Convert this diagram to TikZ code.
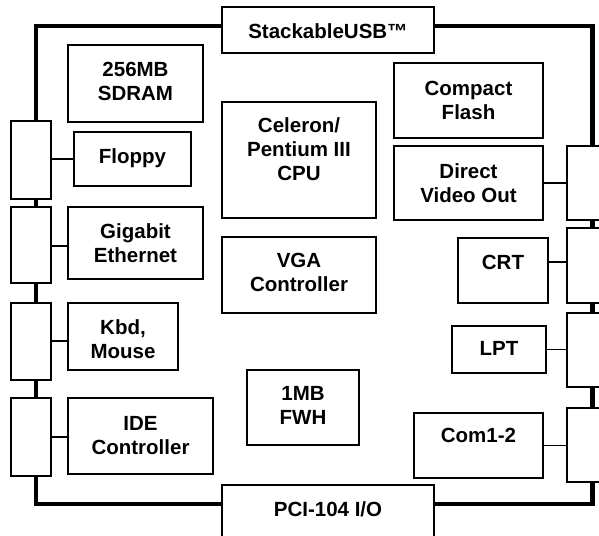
\documentclass[tikz,border=0pt]{standalone}
\usepackage{fontspec}
\setmainfont{Liberation Sans}
\begin{document}
\begin{tikzpicture}[x=1pt,y=-1pt,
  box/.style={draw, line width=1.7pt, fill=white, inner sep=0pt, outer sep=0pt},
  conn/.style={draw, line width=1.7pt, fill=white, inner sep=0pt, outer sep=0pt},
  lbl/.style={font=\fontsize{20.5}{24}\selectfont\bfseries, align=center, inner sep=0pt},
  wire/.style={line width=1.1pt},
  bus/.style={line width=4.6pt}]
\useasboundingbox (0,0) rectangle (599,535);
% bus outline
\draw[bus] (36,26) coordinate (tl) rectangle (592.5,504) coordinate (br);
% connectors left
\node[conn, minimum width=40, minimum height=78] (L1) at (31,160) {};
\node[conn, minimum width=40, minimum height=76] (L2) at (31,245) {};
\node[conn, minimum width=40, minimum height=77] (L3) at (31,341.5) {};
\node[conn, minimum width=40, minimum height=78] (L4) at (31,437) {};
% connectors right
\node[conn, minimum width=40, minimum height=74] (R1) at (587,183) {};
\node[conn, minimum width=40, minimum height=75] (R2) at (587,265.5) {};
\node[conn, minimum width=40, minimum height=74] (R3) at (587,350) {};
\node[conn, minimum width=40, minimum height=74] (R4) at (587,445) {};
% top / bottom boxes
\node[box, minimum width=212, minimum height=46] (usb) at (328,30) {};
\node[lbl] (usbT) at (328,31) {StackableUSB™};
\node[box, minimum width=212, minimum height=58] (pci) at (328,514) {};
\node[lbl] (pciT) at (328,509) {PCI-104 I/O};
% left column
\node[box, minimum width=135, minimum height=77] (sdram) at (135.5,83.5) {};
\node[lbl] (sdramT) at (135.5,81) {256MB\\SDRAM};
\node[box, minimum width=117, minimum height=54] (floppy) at (132.5,159) {};
\node[lbl] (floppyT) at (132.5,158) {Floppy};
\node[box, minimum width=135, minimum height=72] (gig) at (135.5,243) {};
\node[lbl] (gigT) at (135.5,243) {Gigabit\\Ethernet};
\node[box, minimum width=110, minimum height=67] (kbd) at (123,336.5) {};
\node[lbl] (kbdT) at (123,339) {Kbd,\\Mouse};
\node[box, minimum width=145, minimum height=76] (ide) at (140.5,436) {};
\node[lbl] (ideT) at (140.5,435.5) {IDE\\Controller};
% middle column
\node[box, minimum width=154, minimum height=116] (cpu) at (299,160) {};
\node[lbl] (cpuT) at (299,149) {Celeron/\\Pentium III\\CPU};
\node[box, minimum width=154, minimum height=76] (vga) at (299,275) {};
\node[lbl] (vgaT) at (299,272) {VGA\\Controller};
\node[box, minimum width=112, minimum height=75] (fwh) at (303,407.5) {};
\node[lbl] (fwhT) at (303,405.5) {1MB\\FWH};
% right column
\node[box, minimum width=149, minimum height=75] (cf) at (468.5,100.5) {};
\node[lbl] (cfT) at (468.5,100) {Compact\\Flash};
\node[box, minimum width=149, minimum height=74] (dvo) at (468.5,183) {};
\node[lbl] (dvoT) at (468.5,183.5) {Direct\\Video Out};
\node[box, minimum width=90, minimum height=65] (crt) at (503,270.5) {};
\node[lbl] (crtT) at (503,262) {CRT};
\node[box, minimum width=94, minimum height=47] (lpt) at (499,349.5) {};
\node[lbl] (lptT) at (499,348.5) {LPT};
\node[box, minimum width=129, minimum height=65] (com) at (478.5,445.5) {};
\node[lbl] (comT) at (478.5,435.5) {Com1-2};
% thin links
\draw[wire] (L1.east |- 0,159) -- (floppy.west |- 0,159);
\draw[wire] (L2.east |- 0,246) -- (gig.west |- 0,246);
\draw[wire] (L3.east |- 0,341) -- (kbd.west |- 0,341);
\draw[wire] (L4.east |- 0,437) -- (ide.west |- 0,437);
\draw[wire] (dvo.east) -- (R1.west |- dvo.east);
\draw[wire] (crt.east |- 0,262) -- (R2.west |- 0,262);
\draw[wire] (lpt.east) -- (R3.west |- lpt.east);
\draw[wire] (com.east) -- (R4.west |- com.east);
\end{tikzpicture}
\end{document}
